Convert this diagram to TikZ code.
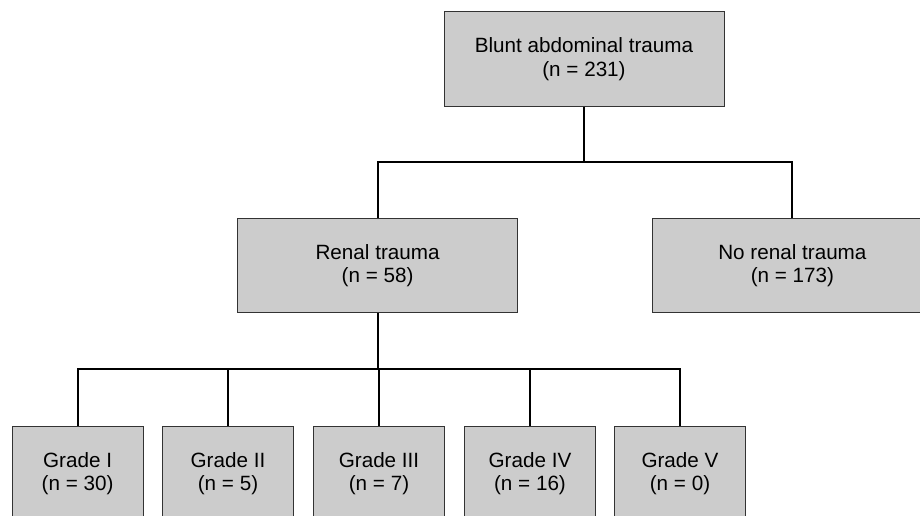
\documentclass[tikz,border=0pt]{standalone}
\usepackage{fontspec}
\setmainfont{Liberation Sans}
\begin{document}
\begin{tikzpicture}[
        box/.style={draw=black!80, line width=0.7pt, fill=black!20, align=center,
            inner sep=0pt, font=\fontsize{14.7}{17}\selectfont},
        wide/.style={box, minimum width=7.0cm, minimum height=2.36cm},
        grade/.style={box, minimum width=3.28cm, minimum height=2.38cm},
        link/.style={line width=1.4pt}
    ]
        \useasboundingbox (0,0) rectangle (23,-12.9);
        \clip (0,0) rectangle (23,-12.9);

        \node[wide] (blunt) at (14.6, -1.475) {Blunt abdominal trauma\\(n = 231)};
        \node[wide] (renal) at (9.44, -6.64) {Renal trauma\\(n = 58)};
        \node[wide] (norenal) at (19.81, -6.64) {No renal trauma\\(n = 173)};

        \node[grade] (g1) at (1.94, -11.84) {Grade I\\(n = 30)};
        \node[grade] (g2) at (5.70, -11.84) {Grade II\\(n = 5)};
        \node[grade] (g3) at (9.475, -11.84) {Grade III\\(n = 7)};
        \node[grade] (g4) at (13.25, -11.84) {Grade IV\\(n = 16)};
        \node[grade] (g5) at (17.0, -11.84) {Grade V\\(n = 0)};

        \coordinate (split1) at (14.6, -4.05);
        \coordinate (split2) at (9.44, -9.225);

        \draw[link] (blunt.south) -- (split1) -| (renal.north);
        \draw[link] (split1) -| (norenal.north);
        \draw[link] (renal.south) -- (split2);
        \foreach \g in {g1, g2, g3, g4, g5}
            \draw[link] (split2) -| (\g.north);
    \end{tikzpicture}
\end{document}
